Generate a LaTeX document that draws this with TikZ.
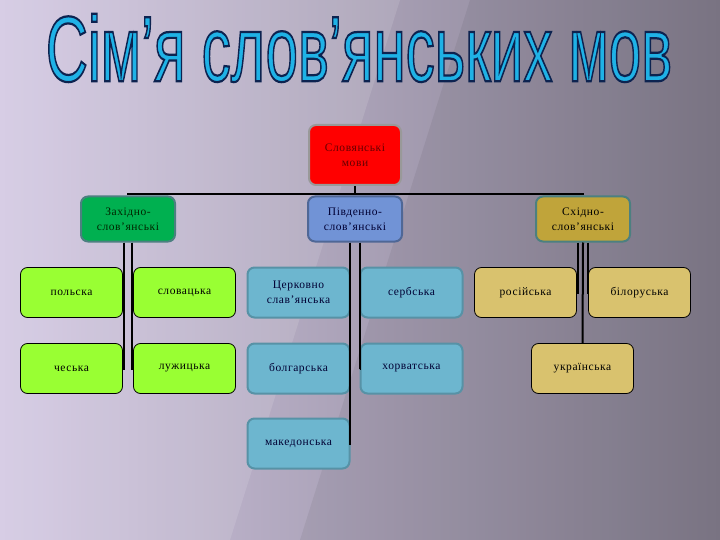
\documentclass[tikz,border=0pt]{standalone}
\usepackage{fontspec}
\setmainfont{Liberation Serif}
\newfontfamily\boxfont{Liberation Serif}[LetterSpace=5]
\newfontfamily\titlefont{Liberation Sans}[FakeBold=2.4]
\definecolor{bgleft}{HTML}{D2C7E2}
\definecolor{bgright}{HTML}{817B8B}
\definecolor{titlecyan}{HTML}{1FB2E6}
\definecolor{titleline}{HTML}{0D2350}
\definecolor{rootred}{HTML}{FF0000}
\definecolor{westgreen}{HTML}{00B050}
\definecolor{southblue}{HTML}{7193D6}
\definecolor{eastgold}{HTML}{C0A43A}
\definecolor{limegreen}{HTML}{99FF33}
\definecolor{skyblue}{HTML}{6DB6CF}
\definecolor{sandgold}{HTML}{D9C26E}
\usetikzlibrary{calc}
\begin{document}
\begin{tikzpicture}[x=1pt,y=-1pt,
  box/.style={rectangle,rounded corners=7pt,align=center,font=\boxfont\fontsize{11.5}{15}\selectfont},
  rootbox/.style={box,fill=rootred,draw=gray!80,line width=2pt,text=red!40!black,minimum width=92pt,minimum height=60pt},
  groupbox/.style={box,line width=2pt,minimum width=94pt,minimum height=45pt},
  langbox/.style={box,minimum width=102pt,minimum height=50pt},
  westlang/.style={langbox,fill=limegreen,draw=black,line width=0.8pt,text=black},
  southlang/.style={langbox,fill=skyblue,draw=skyblue!80!black,line width=2pt,text=blue!20!black},
  eastlang/.style={langbox,fill=sandgold,draw=black,line width=0.8pt,text=black},
  conn/.style={draw=black,line width=2pt}]
\tikzstyle{every node}+=[inner sep=0pt]
\shade [left color=bgleft,right color=bgright] (0,0) rectangle (720,540);
\fill [white,opacity=0.12] (0,0) -- (400,0) -- (230,540) -- (0,540) -- cycle;
\fill [black,opacity=0.06] (470,0) -- (720,0) -- (720,540) -- (300,540) -- cycle;
\node (title) at (359,48) {\scalebox{0.627}[1]{\titlefont\fontsize{93}{93}\selectfont\color{titlecyan}\special{pdf:code 0.051 0.137 0.314 RG}Сім’я слов’янських мов}};
\coordinate (split) at (355,194);
\node [rootbox] (root) at (355,155) {Словянські\\мови};
\node [groupbox,fill=westgreen,draw=gray!60!teal,text=black!85!green] (west) at (128,219) {Західно-\\слов’янські};
\node [groupbox,fill=southblue,draw=southblue!70!black,text=blue!20!black] (south) at (355,219) {Південно-\\слов’янські};
\node [groupbox,fill=eastgold,draw=teal!40!gray,text=black] (east) at (583,219) {Східно-\\слов’янські};
\node [westlang] (polska) at (71.5,292.5) {польска};
\node [westlang] (slovacka) at (184.5,292.5) {словацька};
\node [westlang] (cheska) at (71.5,368.5) {чеська};
\node [westlang] (luzhycka) at (184.5,368.5) {лужицька};
\node [southlang] (cerkovna) at (298.5,292.5) {Церковно\\слав’янська};
\node [southlang] (serbska) at (411.5,292.5) {сербська};
\node [southlang] (bolgarska) at (298.5,368.5) {болгарська};
\node [southlang] (khorvatska) at (411.5,368.5) {хорватська};
\node [southlang] (makedonska) at (298.5,443.5) {македонська};
\node [eastlang] (rosiyska) at (525.5,292.5) {російська};
\node [eastlang] (biloruska) at (639.5,292.5) {білоруська};
\node [eastlang] (ukrainska) at (582.5,368.5) {українська};
\draw [conn] (root.south) -- (split);
\draw [conn] (split) -| (west.north);
\draw [conn] (split) -| (east.north);
\draw [conn] ([xshift=-4pt]west.south) |- (polska.east);
\draw [conn] ([xshift=-4pt]west.south) |- (cheska.east);
\draw [conn] ([xshift=4pt]west.south) |- (slovacka.west);
\draw [conn] ([xshift=4pt]west.south) |- (luzhycka.west);
\draw [conn] ([xshift=-5pt]south.south) |- (cerkovna.east);
\draw [conn] ([xshift=-5pt]south.south) |- (bolgarska.east);
\draw [conn] ([xshift=-5pt]south.south) |- (makedonska.east);
\draw [conn] ([xshift=5pt]south.south) |- (serbska.west);
\draw [conn] ([xshift=5pt]south.south) |- (khorvatska.west);
\draw [conn] ([xshift=-5pt]east.south) |- (rosiyska.east);
\draw [conn] ([xshift=5pt]east.south) |- (biloruska.west);
\draw [conn] (east.south) -- (ukrainska.north);
\end{tikzpicture}
\end{document}
